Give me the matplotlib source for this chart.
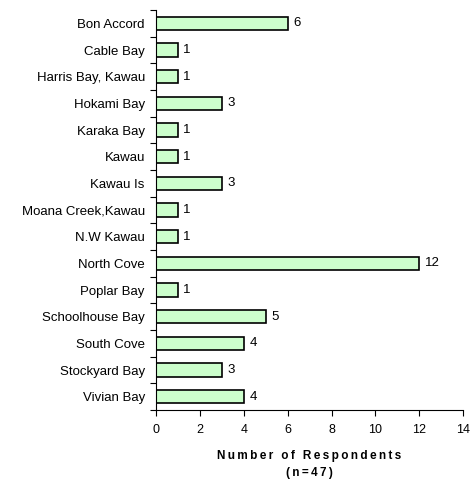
import matplotlib
matplotlib.use("Agg")
import matplotlib.pyplot as plt

# localidades y numero de encuestados
lugares = ["Bon Accord", "Cable Bay", "Harris Bay, Kawau", "Hokami Bay", "Karaka Bay",
           "Kawau", "Kawau Is", "Moana Creek,Kawau", "N.W Kawau", "North Cove",
           "Poplar Bay", "Schoolhouse Bay", "South Cove", "Stockyard Bay", "Vivian Bay"]
respuestas = [6, 1, 1, 3, 1, 1, 3, 1, 1, 12, 1, 5, 4, 3, 4]
ticks_x = [0, 2, 4, 6, 8, 10, 12, 14]

plt.rcParams['font.family'] = ['Liberation Sans', 'DejaVu Sans']

fig = plt.figure(figsize=(4.77, 4.83), dpi=100)
ax = fig.add_axes([0.327, 0.151, 0.644, 0.828])

pos = list(range(len(lugares)))
ax.barh(pos, respuestas, height=0.5, color="#ccffcc", edgecolor="black", linewidth=1.2)
for p, v in zip(pos, respuestas):
    ax.text(v + 0.25, p, str(v), va="center", ha="left", fontsize=9.5)

ax.set_ylim(len(lugares) - 0.5, -0.5)
ax.set_yticks([p - 0.5 for p in pos] + [len(lugares) - 0.5])
ax.set_yticklabels([])
ax.set_yticks(pos, minor=True)
ax.set_yticklabels(lugares, minor=True, fontsize=9.5)
ax.tick_params(axis="y", which="minor", length=0, pad=8)
ax.tick_params(axis="y", which="major", length=4, direction="out")

ax.set_xlim(0, 14)
ax.set_xticks(ticks_x)
ax.tick_params(axis="x", labelsize=9, length=4, pad=6)

ax.spines["top"].set_visible(False)
ax.spines["right"].set_visible(False)

# titulo del eje con letras espaciadas
esp = "\u2009"
titulo = esp.join("Number of Respondents") + "\n" + esp.join("(n=47)")
ax.set_xlabel(titulo, fontsize=8.5, fontweight="bold", labelpad=10, linespacing=1.6)

plt.savefig("out.png", dpi=100)
